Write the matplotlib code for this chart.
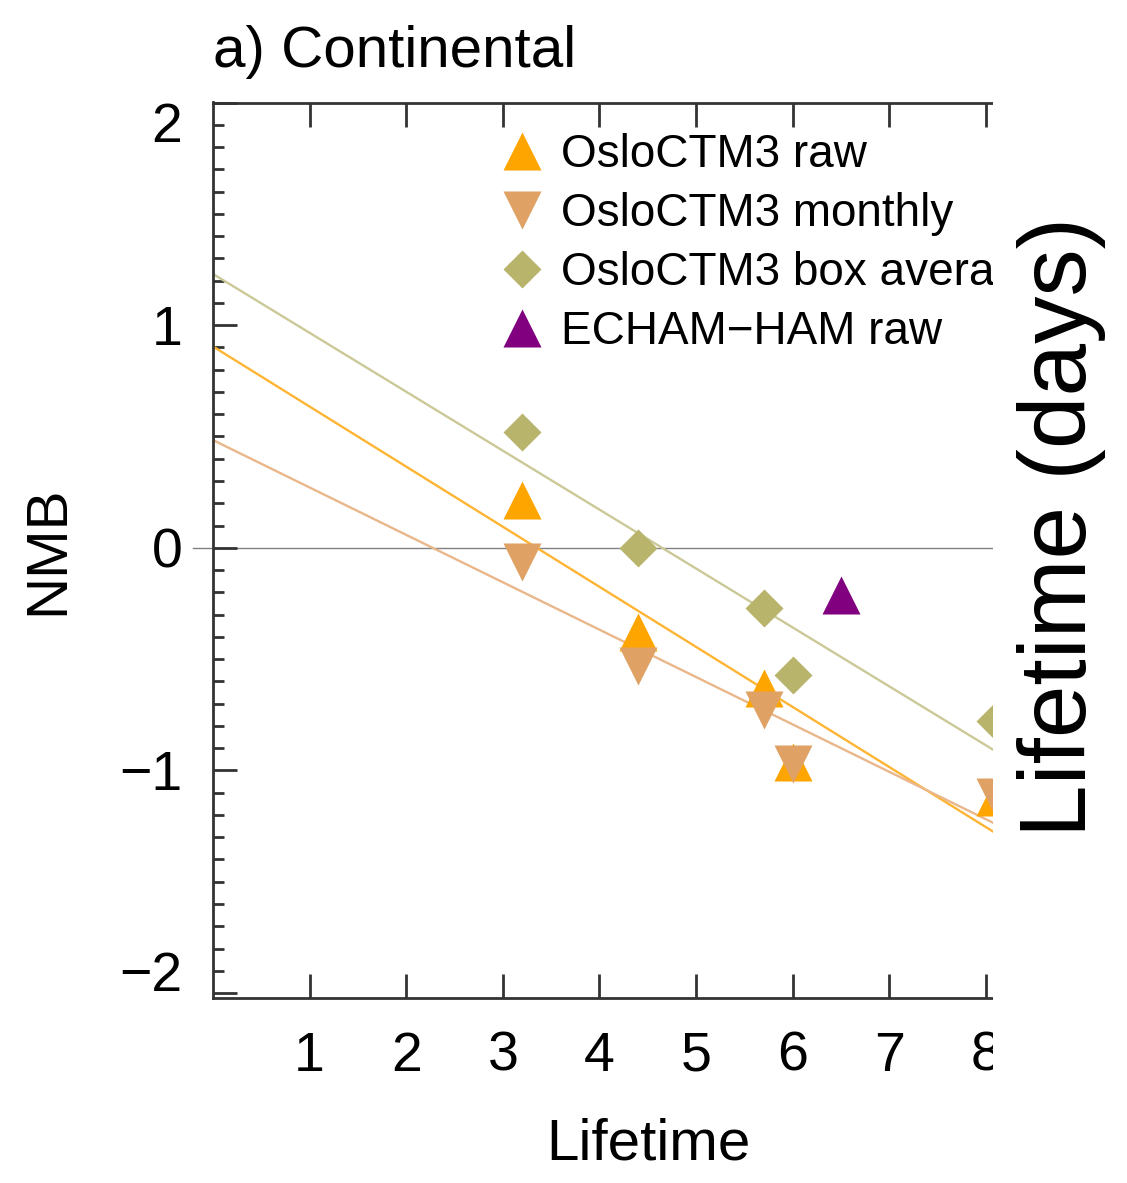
import numpy as np
import matplotlib
matplotlib.use("Agg")
import matplotlib.pyplot as plt
from matplotlib.lines import Line2D
from matplotlib.patches import Rectangle
from matplotlib.transforms import offset_copy

# данные
lifetime = [3.2, 4.4, 5.7, 6.0, 8.1]
nmb_raw = [0.215, -0.377, -0.63, -0.96, -1.12]
nmb_monthly = [-0.063, -0.53, -0.73, -0.97, -1.12]
lifetime_box = [3.2, 4.4, 5.7, 6.0, 8.1]
nmb_box = [0.52, 0.0, -0.27, -0.57, -0.78]
lifetime_echam = [6.5]
nmb_echam = [-0.21]

labels = ["OsloCTM3 raw", "OsloCTM3 monthly", "OsloCTM3 box average", "ECHAM\u2212HAM raw"]
colors = ["#ffa500", "#dfa264", "#b8b46c", "#800080"]
line_colors = ["#ffb533", "#e9b78a", "#cbc998"]
x_ticks = [1, 2, 3, 4, 5, 6, 7, 8]
y_ticks = [-2, -1, 0, 1, 2]
y_ticklabels = ["\u22122", "\u22121", "0", "1", "2"]

plt.rcParams["font.family"] = ["Liberation Sans", "DejaVu Sans"]

W, H = 1127, 1183
fig = plt.figure(figsize=(W / 100, H / 100), dpi=100)
ax = fig.add_axes([213 / W, 1 - 997.5 / H, (993 - 213) / W, (997.5 - 102.5) / H])

ax.set_xlim(0, 8.075)
ax.set_ylim(-2.02, 2.0)

# линии регрессии
xx = np.array([0.0, 9.0])
for yy, c in zip([nmb_raw, nmb_monthly, nmb_box], line_colors):
    p = np.polyfit(lifetime, yy, 1)
    ax.plot(xx, np.polyval(p, xx), color=c, lw=1.7, zorder=2)

ax.axhline(0, xmin=-0.026, xmax=1, color="#808080", lw=1.0, clip_on=False, zorder=1)

ms_tri = 27
ax.plot(lifetime, nmb_raw, ls="none", marker="^", ms=ms_tri, color=colors[0], mec="none", zorder=3)
ax.plot(lifetime, nmb_monthly, ls="none", marker="v", ms=ms_tri, color=colors[1], mec="none", zorder=4)
ax.plot(lifetime_box, nmb_box, ls="none", marker="D", ms=19, color=colors[2], mec="none", zorder=4)
ax.plot(lifetime_echam, nmb_echam, ls="none", marker="^", ms=ms_tri, color=colors[3], mec="none", zorder=4)

ax.set_xticks(x_ticks)
ax.set_yticks(y_ticks)
ax.set_yticks(np.arange(-2, 2.01, 0.1), minor=True)
ax.set_yticklabels(y_ticklabels)
ax.tick_params(axis="x", which="major", direction="in", length=17, width=2,
               top=True, labelsize=40, pad=24, color="#333333")
ax.tick_params(axis="y", which="major", direction="in", length=17, width=2,
               labelsize=40, pad=22, color="#333333")
ax.tick_params(axis="y", which="minor", direction="in", length=8, width=2, color="#333333")
for s in ["left", "bottom", "top"]:
    ax.spines[s].set_linewidth(2)
    ax.spines[s].set_color("#333333")
ax.spines["right"].set_visible(False)

# крайние подписи оси y сдвинуты внутрь
ylabs = ax.get_yticklabels()
ylabs[0].set_transform(offset_copy(ylabs[0].get_transform(), fig=fig, y=16, units="points"))
ylabs[-1].set_transform(offset_copy(ylabs[-1].get_transform(), fig=fig, y=-14, units="points"))

handles = [
    Line2D([], [], ls="none", marker="^", ms=ms_tri, color=colors[0], mec="none"),
    Line2D([], [], ls="none", marker="v", ms=ms_tri, color=colors[1], mec="none"),
    Line2D([], [], ls="none", marker="D", ms=19, color=colors[2], mec="none"),
    Line2D([], [], ls="none", marker="^", ms=ms_tri, color=colors[3], mec="none"),
]
fs_leg = 33
ax.legend(handles, labels, loc="upper left", bbox_to_anchor=(504 / W, 1 - 133 / H),
          bbox_transform=fig.transFigure, frameon=False, fontsize=fs_leg,
          handlelength=0.8, handletextpad=0.45, labelspacing=0.33,
          borderpad=0, borderaxespad=0)

# панель обрезана справа
fig.add_artist(Rectangle((993 / W, 0), 1 - 993 / W, 1, transform=fig.transFigure,
                         facecolor="white", edgecolor="none", zorder=5))

fig.text(213 / W, 1 - 67 / H, "a) Continental", fontsize=42, va="baseline", ha="left")
fig.text(648 / W, 1 - 1160 / H, "Lifetime", fontsize=42, va="baseline", ha="center")
fig.text(48 / W, 1 - 550 / H, "NMB", fontsize=42, rotation=90, va="center", ha="center")
fig.text(1062 / W, 1 - 527 / H, "Lifetime (days)", fontsize=68, rotation=90,
         va="center", ha="center", zorder=6)

fig.savefig("out.png", dpi=100)
